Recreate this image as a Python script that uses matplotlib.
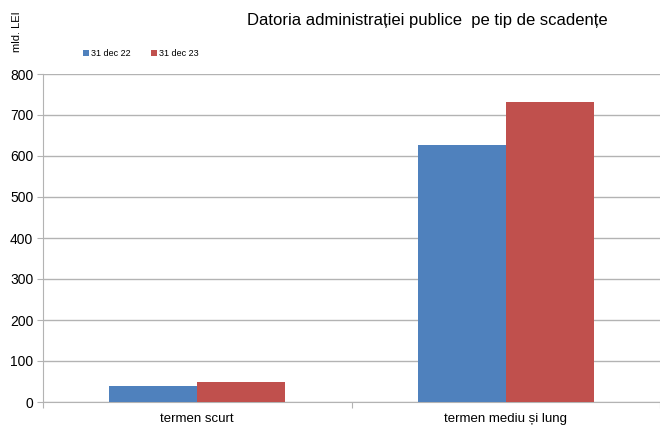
import matplotlib.pyplot as plt
import numpy as np

plt.rcParams["font.family"] = ["Liberation Sans", "DejaVu Sans"]

CATEGORIES = ["termen scurt", "termen mediu și lung"]
SERIES = ["31 dec 22", "31 dec 23"]
VALUES_2022 = [39, 628]
VALUES_2023 = [49, 732]
COLORS = ["#4F81BD", "#C0504D"]
GRID = "#B3B3B3"

fig = plt.figure(figsize=(6.6, 4.26), dpi=100)
ax = fig.add_axes([43 / 660, 1 - 402 / 426, 617 / 660, 328 / 426])

x = np.arange(len(CATEGORIES))
w = 0.285
ax.bar(x - w / 2, VALUES_2022, w, color=COLORS[0], label=SERIES[0], zorder=3)
ax.bar(x + w / 2, VALUES_2023, w, color=COLORS[1], label=SERIES[1], zorder=3)

ax.set_xlim(-0.5, 1.5)
ax.set_ylim(0, 800)
ax.set_yticks(range(0, 801, 100))
ax.tick_params(axis="y", labelsize=10, length=4, color=GRID, pad=3)
ax.set_xticks([-0.5, 0.5, 1.5], minor=False)
ax.set_xticklabels([])
ax.set_xticks(x, minor=True)
ax.set_xticklabels(CATEGORIES, minor=True, fontsize=9.5)
ax.tick_params(axis="x", which="major", length=4, color=GRID)
ax.tick_params(axis="x", which="minor", length=0, pad=8)
ax.grid(axis="y", color=GRID, linewidth=1, zorder=0)

for side in ["top", "right"]:
    ax.spines[side].set_visible(False)
for side in ["left", "bottom"]:
    ax.spines[side].set_color(GRID)

fig.text(427 / 660, 1 - 20 / 426, "Datoria administrației publice  pe tip de scadențe",
         ha="center", va="center", fontsize=12)
fig.text(17 / 660, 1 - 32 / 426, "mld. LEI", rotation=90, ha="center", va="center", fontsize=8)

ax.legend(loc="upper left", bbox_to_anchor=(75 / 660, 1 - 41 / 426),
          bbox_transform=fig.transFigure, ncol=2, frameon=False, fontsize=6.5,
          handlelength=0.7, handleheight=0.7, handletextpad=0.2, columnspacing=2.2)

fig.savefig("out.png", dpi=100)
